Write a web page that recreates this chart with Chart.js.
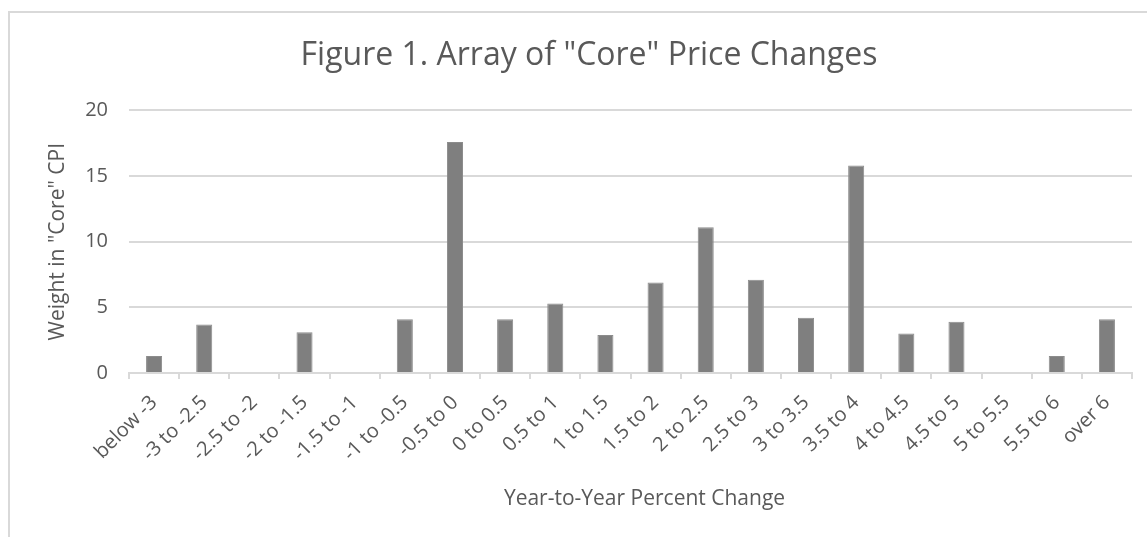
<!DOCTYPE html>
<html>
<head>
<meta charset="utf-8">
<script src="https://cdn.jsdelivr.net/npm/chart.js@4.4.1/dist/chart.umd.min.js"></script>
<style>
  html, body { margin: 0; padding: 0; background: #ffffff; }
  #wrap { position: relative; width: 1147px; height: 537px; overflow: hidden; }
  #frame { position: absolute; left: 8px; top: 11px; width: 1160px; height: 560px;
           border-left: 2px solid #d9d9d9; border-top: 2px solid #d9d9d9; box-sizing: border-box; }
  canvas { position: absolute; left: 0; top: 0; }
</style>
</head>
<body>
<div id="wrap">
  <div id="frame"></div>
  <canvas id="c" width="1147" height="537"></canvas>
</div>
<script>
const categories = ["below -3", "-3 to -2.5", "-2.5 to -2", "-2 to -1.5", "-1.5 to -1", "-1 to -0.5",
  "-0.5 to 0", "0 to 0.5", "0.5 to 1", "1 to 1.5", "1.5 to 2", "2 to 2.5", "2.5 to 3", "3 to 3.5",
  "3.5 to 4", "4 to 4.5", "4.5 to 5", "5 to 5.5", "5.5 to 6", "over 6"];
const weights = [1.3, 3.7, 0, 3.1, 0, 4.1, 17.6, 4.1, 5.3, 2.9, 6.9, 11.1, 7.1, 4.2, 15.8, 3.0, 3.9, 0, 1.3, 4.1];
const yTicks = [0, 5, 10, 15, 20];
const chartTitle = 'Figure 1. Array of "Core" Price Changes';
const yTitle = 'Weight in "Core" CPI';
const xTitle = 'Year-to-Year Percent Change';

const FONT = "'Open Sans', 'Liberation Sans', sans-serif";
const TXT = '#595959';
const GRID = '#d9d9d9';

// The original chart frame extends past the right edge of the picture,
// so its titles sit slightly right of the plot centre.
const titleShift = {
  id: 'titleShift',
  afterLayout(chart) {
    const tb = chart.titleBlock;
    if (tb) { tb.left += 18; tb.right += 18; }
    const s = chart.scales.x;
    if (s && !s._shiftPatched) {
      const orig = s.drawTitle.bind(s);
      s.drawTitle = function () {
        const l = this.left, r = this.right;
        this.left = l + 14; this.right = r + 14;
        orig();
        this.left = l; this.right = r;
      };
      s._shiftPatched = true;
    }
  }
};

new Chart(document.getElementById('c'), {
  type: 'bar',
  data: {
    labels: categories,
    datasets: [{
      data: weights,
      backgroundColor: '#7f7f7f',
      borderColor: '#8c8c8c',
      borderWidth: 1,
      categoryPercentage: 1.0,
      barPercentage: 0.32
    }]
  },
  plugins: [titleShift],
  options: {
    responsive: false,
    animation: false,
    devicePixelRatio: 1,
    layout: { padding: { left: 10, right: 15, top: 0, bottom: 0 } },
    plugins: {
      legend: { display: false },
      tooltip: { enabled: false },
      title: {
        display: true,
        text: chartTitle,
        color: TXT,
        font: { family: FONT, size: 32, weight: 'normal' },
        padding: { top: 37, bottom: 35 }
      }
    },
    scales: {
      x: {
        grid: { display: true, drawOnChartArea: false, color: GRID, lineWidth: 2, tickLength: 6, offset: true },
        border: { display: true, color: GRID, width: 2 },
        ticks: {
          color: TXT, font: { family: FONT, size: 20 },
          maxRotation: 45, minRotation: 45, autoSkip: false, padding: 12
        },
        title: {
          display: true, text: xTitle, color: TXT,
          font: { family: FONT, size: 21 }, padding: { top: 0, bottom: 25 }
        },
        afterFit: (s) => { s.height = 164; }
      },
      y: {
        min: 0, max: 20,
        afterBuildTicks: (s) => { s.ticks = yTicks.map(v => ({ value: v })); },
        grid: { color: GRID, lineWidth: 2, drawTicks: false },
        border: { display: false },
        ticks: { color: TXT, font: { family: FONT, size: 20 }, padding: 21 },
        title: {
          display: true, text: yTitle, color: TXT,
          font: { family: FONT, size: 21 }, padding: { top: 35, bottom: 0 }
        },
        afterFit: (s) => { s.width = 119; }
      }
    }
  }
});
</script>
</body>
</html>
